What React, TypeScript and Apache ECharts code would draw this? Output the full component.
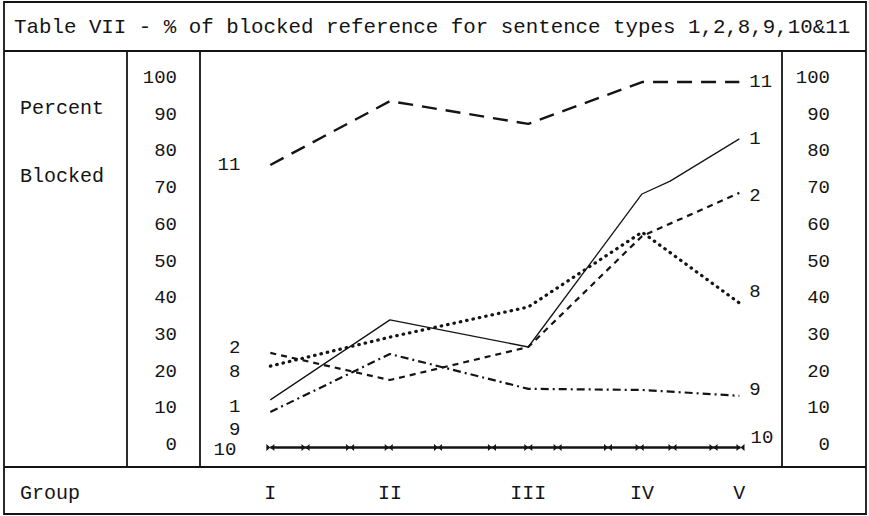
import React, { useEffect, useRef } from "react";
import * as echarts from "echarts";

// ---- data ----
const groupLabels = ["I", "II", "III", "IV", "V"];
const groupPos = [1.0, 2.02, 3.2, 4.17, 5.0];

const type1X = [1.0, 2.02, 3.2, 4.17, 4.41, 5.0];
const type1Y = [12.3, 34.1, 26.7, 68.4, 71.9, 83.4];
const type2Y = [25.1, 17.7, 26.7, 56.9, 68.7];
const type8Y = [21.5, 29.4, 37.6, 58.0, 38.7];
const type9Y = [9.0, 24.8, 15.3, 15.0, 13.4];
const type11Y = [76.3, 93.7, 87.5, 98.9, 98.9];
const type10X = [1.0, 1.3, 1.68, 2.01, 2.43, 2.89, 3.2, 3.45, 3.88, 4.15, 4.43, 4.78, 5.01];
const type10Y = [-0.7, -0.7, -0.7, -0.7, -0.7, -0.7, -0.7, -0.7, -0.7, -0.7, -0.7, -0.7, -0.7];

const yMin = 0;
const yMax = 100;
const yStep = 10;

const FONT = "'Liberation Mono', 'Courier New', monospace";
const INK = "#141414";

function pairs(xs: number[], ys: number[]) {
  return xs.map((x, i) => [x, ys[i]]);
}

function makeSeries(
  name: string,
  data: number[][],
  lineStyle: any,
  leftDy: number,
  rightDy: number
) {
  return {
    name,
    type: "line",
    clip: false,
    showSymbol: true,
    showAllSymbol: true,
    symbol: "circle",
    symbolSize: 0.1,
    itemStyle: { color: "rgba(0,0,0,0)" },
    lineStyle: { color: INK, ...lineStyle },
    emphasis: { disabled: true },
    data: data.map((d, i) =>
      i === 0
        ? {
            value: d,
            label: {
              show: true,
              position: "left",
              distance: 30,
              offset: [0, leftDy],
              formatter: name,
              color: INK,
              fontFamily: FONT,
              fontSize: 19,
            },
          }
        : { value: d }
    ),
    endLabel: {
      show: true,
      formatter: name,
      distance: 10,
      offset: [0, rightDy],
      color: INK,
      fontFamily: FONT,
      fontSize: 19,
    },
  };
}

export default function App() {
  const ref = useRef<HTMLDivElement>(null);

  useEffect(() => {
    if (!ref.current) return;
    const chart = echarts.init(ref.current, undefined, { renderer: "svg" });

    const frame = { stroke: INK, lineWidth: 1.8 };
    const option: any = {
      animation: false,
      backgroundColor: "#ffffff",
      grid: { left: 200, right: 87, top: 78, bottom: 71 },
      xAxis: {
        type: "value",
        min: 0.4,
        max: 5.364,
        axisLine: { show: false },
        axisTick: { show: false },
        splitLine: { show: false },
        axisLabel: {
          customValues: groupPos,
          formatter: (v: number) => {
            const i = groupPos.findIndex((p) => Math.abs(p - v) < 1e-6);
            return i >= 0 ? groupLabels[i] : "";
          },
          margin: 38,
          color: INK,
          fontFamily: FONT,
          fontSize: 20,
        },
      },
      yAxis: [
        {
          type: "value",
          position: "left",
          min: yMin,
          max: yMax,
          interval: yStep,
          axisLine: { show: false },
          axisTick: { show: false },
          splitLine: { show: false },
          axisLabel: { margin: 23, color: INK, fontFamily: FONT, fontSize: 19 },
        },
        {
          type: "value",
          position: "right",
          min: yMin,
          max: yMax,
          interval: yStep,
          axisLine: { show: false },
          axisTick: { show: false },
          splitLine: { show: false },
          axisLabel: {
            margin: 48,
            align: "right",
            color: INK,
            fontFamily: FONT,
            fontSize: 19,
          },
        },
      ],
      series: [
        makeSeries("11", pairs(groupPos, type11Y), { width: 2.4, type: [15, 9] }, 0, 0),
        makeSeries("1", pairs(type1X, type1Y), { width: 1.3, type: "solid" }, 7, 0),
        makeSeries("2", pairs(groupPos, type2Y), { width: 2.2, type: [6, 5] }, -5, 3),
        makeSeries(
          "8",
          pairs(groupPos, type8Y),
          { width: 3.2, type: [0.5, 6], cap: "round" },
          6,
          -11
        ),
        makeSeries(
          "9",
          pairs(groupPos, type9Y),
          { width: 2.2, type: [8, 4, 2, 4] },
          18,
          -6
        ),
        {
          ...makeSeries("10", pairs(type10X, type10Y), { width: 2.6, type: "solid" }, 2, -10),
          symbol: "path://M0,0 L10,7 L10,0 L0,7 Z",
          symbolSize: [8, 7],
          itemStyle: { color: INK },
        },
      ],
      graphic: [
        { type: "rect", shape: { x: 4, y: 2, width: 862, height: 512 }, style: { fill: "none", ...frame }, silent: true },
        { type: "line", shape: { x1: 4, y1: 51, x2: 866, y2: 51 }, style: frame, silent: true },
        { type: "line", shape: { x1: 4, y1: 467, x2: 866, y2: 467 }, style: frame, silent: true },
        { type: "line", shape: { x1: 127, y1: 51, x2: 127, y2: 467 }, style: frame, silent: true },
        { type: "line", shape: { x1: 200, y1: 51, x2: 200, y2: 467 }, style: frame, silent: true },
        { type: "line", shape: { x1: 782, y1: 51, x2: 782, y2: 467 }, style: frame, silent: true },
        {
          type: "text",
          x: 14,
          y: 27,
          style: {
            text: "Table VII - % of blocked reference for sentence types 1,2,8,9,10&11",
            fill: INK,
            font: `20.8px ${FONT}`,
            textVerticalAlign: "middle",
          },
          silent: true,
        },
        { type: "text", x: 20, y: 108, style: { text: "Percent", fill: INK, font: `20px ${FONT}`, textVerticalAlign: "middle" }, silent: true },
        { type: "text", x: 20, y: 176, style: { text: "Blocked", fill: INK, font: `20px ${FONT}`, textVerticalAlign: "middle" }, silent: true },
        { type: "text", x: 20, y: 493, style: { text: "Group", fill: INK, font: `20px ${FONT}`, textVerticalAlign: "middle" }, silent: true },
      ],
    };

    chart.setOption(option);
    return () => chart.dispose();
  }, []);

  return (
    <div
      ref={ref}
      style={{ position: "fixed", left: 0, top: 0, width: 869, height: 516, background: "#fff" }}
    />
  );
}
